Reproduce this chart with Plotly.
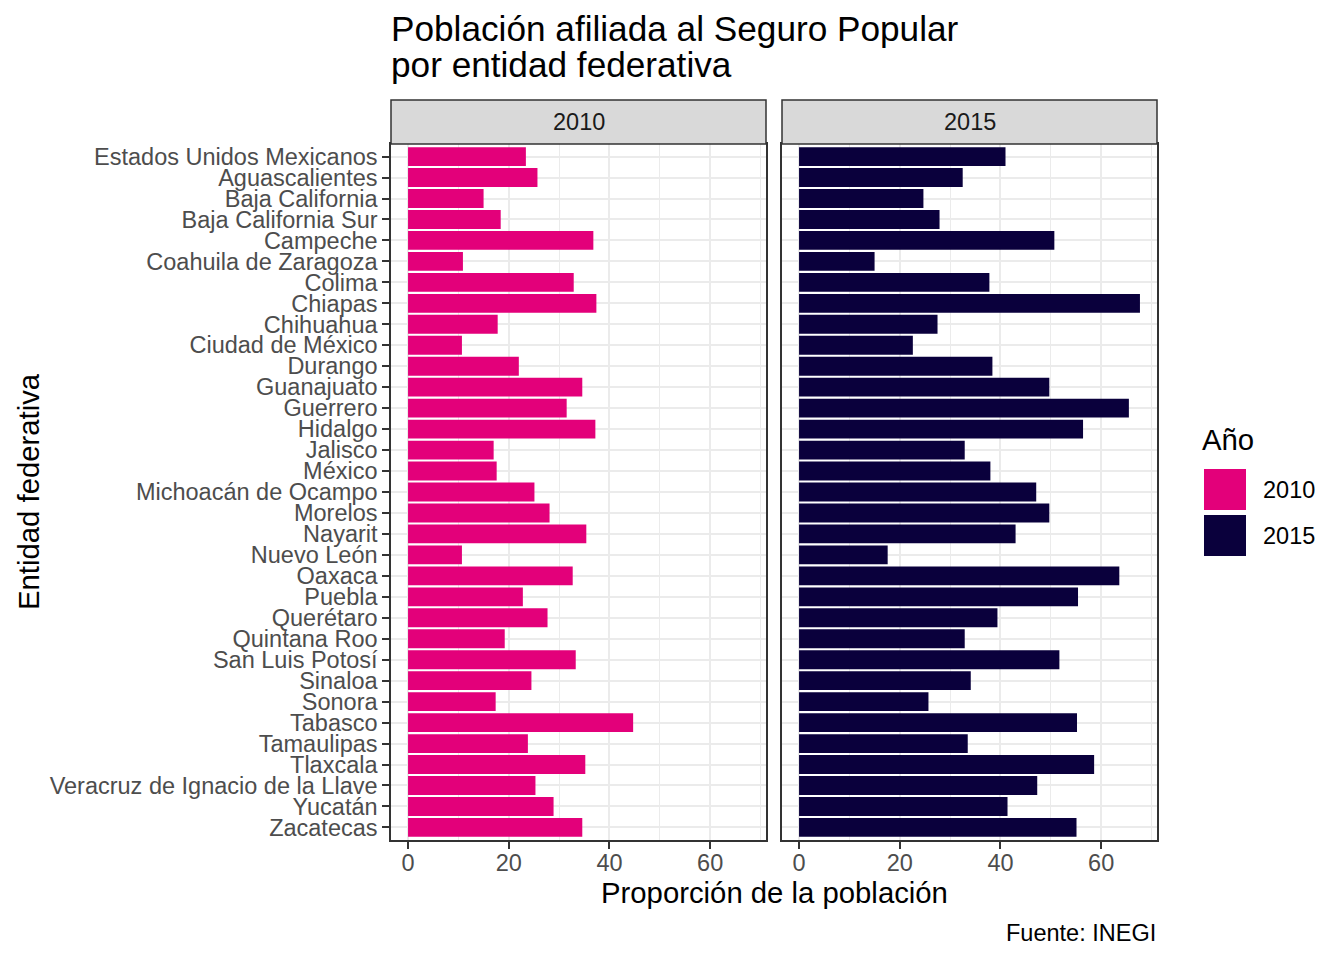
import plotly.graph_objects as go

# Data
entidades = [
    'Estados Unidos Mexicanos', 'Aguascalientes', 'Baja California', 'Baja California Sur',
    'Campeche', 'Coahuila de Zaragoza', 'Colima', 'Chiapas', 'Chihuahua', 'Ciudad de México',
    'Durango', 'Guanajuato', 'Guerrero', 'Hidalgo', 'Jalisco', 'México',
    'Michoacán de Ocampo', 'Morelos', 'Nayarit', 'Nuevo León', 'Oaxaca', 'Puebla',
    'Querétaro', 'Quintana Roo', 'San Luis Potosí', 'Sinaloa', 'Sonora', 'Tabasco',
    'Tamaulipas', 'Tlaxcala', 'Veracruz de Ignacio de la Llave', 'Yucatán', 'Zacatecas',
]
prop_2010 = [
    23.4, 25.7, 15.0, 18.4, 36.8, 10.9, 32.9, 37.4, 17.8, 10.7,
    22.0, 34.6, 31.5, 37.2, 17.0, 17.6, 25.1, 28.1, 35.4, 10.7,
    32.7, 22.8, 27.7, 19.2, 33.3, 24.5, 17.4, 44.7, 23.8, 35.2,
    25.3, 28.9, 34.6,
]
prop_2015 = [
    41.0, 32.5, 24.7, 27.9, 50.7, 15.0, 37.8, 67.7, 27.5, 22.6,
    38.4, 49.7, 65.5, 56.4, 32.9, 38.0, 47.1, 49.7, 43.0, 17.6,
    63.6, 55.4, 39.4, 32.9, 51.7, 34.1, 25.7, 55.2, 33.5, 58.6,
    47.3, 41.4, 55.1,
]
anios = ['2010', '2015']
colores = ['#E3007A', '#0A003C']

W, H = 1344, 960
OFF = 8  # the page body margin shifts the figure by 8px
FONT = 'Liberation Sans, Arial, Helvetica, sans-serif'


def px_x(v):
    return (v - OFF) / W


def px_y(v):
    return 1 - (v - OFF) / H


dom1 = [px_x(391), px_x(766)]
dom2 = [px_x(782), px_x(1157)]
ydom = [px_y(840), px_y(144)]
xmax = max(prop_2010 + prop_2015)
xrange = [-0.05 * xmax, 1.05 * xmax]
n = len(entidades)

fig = go.Figure()
for i, (vals, col) in enumerate(zip([prop_2010, prop_2015], colores)):
    sfx = '' if i == 0 else '2'
    fig.add_trace(go.Bar(
        x=vals, y=entidades, orientation='h',
        marker=dict(color=col, line=dict(width=0)),
        width=0.9, name=anios[i], showlegend=False,
        xaxis='x' + sfx, yaxis='y' + sfx,
    ))

axis_x = dict(
    range=xrange, tickvals=[0, 20, 40, 60], ticks='outside', ticklen=7, tickwidth=1.5,
    tickcolor='#333333', tickfont=dict(size=23.5, color='#4D4D4D', family=FONT),
    ticklabelstandoff=-6,
    showgrid=True, gridcolor='#EBEBEB', gridwidth=2,
    minor=dict(tickvals=[10, 30, 50, 70], showgrid=True, gridcolor='#EBEBEB', gridwidth=1.2, ticks=''),
    showline=True, mirror=True, linecolor='#333333', linewidth=1.5,
    zeroline=False, automargin=False, fixedrange=True,
)
axis_y = dict(
    type='category', categoryorder='array', categoryarray=entidades,
    tickmode='array', tickvals=entidades, ticktext=entidades,
    range=[n - 1 + 0.6, -0.6], domain=ydom,
    showgrid=True, gridcolor='#EBEBEB', gridwidth=2,
    showline=True, mirror=True, linecolor='#333333', linewidth=1.5,
    zeroline=False, automargin=False,
)

fig.update_layout(
    width=W, height=H, template='none',
    margin=dict(l=0, r=0, t=0, b=0), autosize=False,
    paper_bgcolor='white', plot_bgcolor='white',
    font=dict(family=FONT, color='black'),
    bargap=0.1,
    xaxis=dict(axis_x, domain=dom1, anchor='y'),
    xaxis2=dict(axis_x, domain=dom2, anchor='y2'),
    yaxis=dict(axis_y, anchor='x', ticks='outside', ticklen=7, tickwidth=1.5, tickcolor='#333333',
               tickfont=dict(size=23.5, color='#4D4D4D', family=FONT)),
    yaxis2=dict(axis_y, anchor='x2', showticklabels=False, ticks=''),
)

shapes = []
annotations = []
# facet strips
for dom, lab in zip([dom1, dom2], anios):
    shapes.append(dict(type='rect', xref='paper', yref='paper',
                       x0=dom[0], x1=dom[1], y0=px_y(144), y1=px_y(100),
                       fillcolor='#D9D9D9', line=dict(color='#333333', width=1.5)))
    annotations.append(dict(text=lab, xref='paper', yref='paper', x=(dom[0] + dom[1]) / 2, y=px_y(122),
                            xanchor='center', yanchor='middle', showarrow=False,
                            font=dict(size=23.5, color='#1A1A1A', family=FONT)))

# title lines
annotations.append(dict(text='Población afiliada al Seguro Popular', xref='paper', yref='paper',
                        x=px_x(389), y=px_y(28), xanchor='left', yanchor='middle', showarrow=False,
                        font=dict(size=35.2, color='black', family=FONT)))
annotations.append(dict(text='por entidad federativa', xref='paper', yref='paper',
                        x=px_x(389), y=px_y(65), xanchor='left', yanchor='middle', showarrow=False,
                        font=dict(size=35.2, color='black', family=FONT)))
# axis titles
annotations.append(dict(text='Proporción de la población', xref='paper', yref='paper',
                        x=px_x(774), y=px_y(892), xanchor='center', yanchor='middle', showarrow=False,
                        font=dict(size=29.3, color='black', family=FONT)))
annotations.append(dict(text='Entidad federativa', xref='paper', yref='paper', textangle=-90,
                        x=px_x(28), y=px_y(492), xanchor='center', yanchor='middle', showarrow=False,
                        font=dict(size=29.3, color='black', family=FONT)))
# caption
annotations.append(dict(text='Fuente: INEGI', xref='paper', yref='paper',
                        x=px_x(1158), y=px_y(933), xanchor='right', yanchor='middle', showarrow=False,
                        font=dict(size=23.5, color='black', family=FONT)))

# legend
annotations.append(dict(text='Año', xref='paper', yref='paper',
                        x=px_x(1200), y=px_y(440), xanchor='left', yanchor='middle', showarrow=False,
                        font=dict(size=29.3, color='black', family=FONT)))
for k, (lab, col) in enumerate(zip(anios, colores)):
    top = 469 + 46 * k
    shapes.append(dict(type='rect', xref='paper', yref='paper',
                       x0=px_x(1204), x1=px_x(1246), y0=px_y(top + 41), y1=px_y(top),
                       fillcolor=col, line=dict(width=0)))
    annotations.append(dict(text=lab, xref='paper', yref='paper',
                            x=px_x(1261), y=px_y(top + 21), xanchor='left', yanchor='middle',
                            showarrow=False, font=dict(size=23.5, color='black', family=FONT)))

fig.update_layout(shapes=shapes, annotations=annotations)
fig.write_html('out.html')
